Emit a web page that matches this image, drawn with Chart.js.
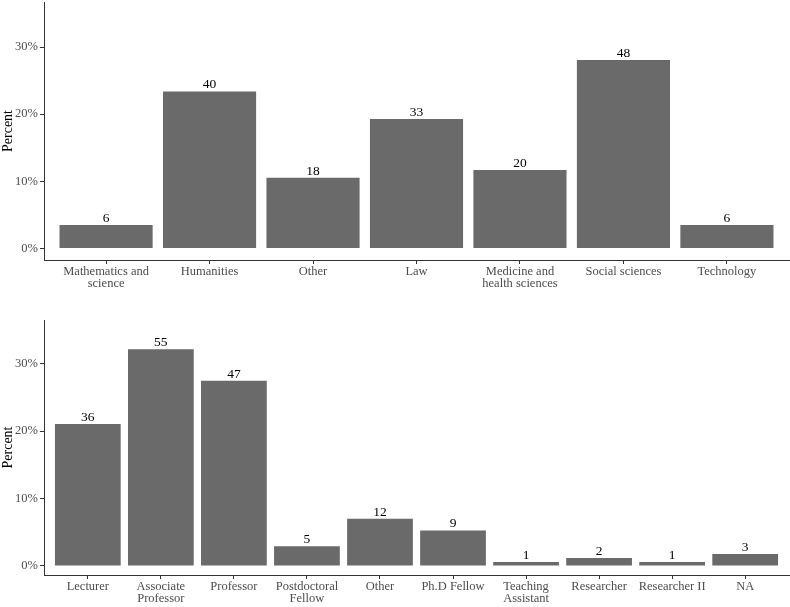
<!DOCTYPE html>
<html lang="en">
<head>
  <meta charset="UTF-8" />
  <title>Respondents by field and position</title>
  <script src="https://cdn.jsdelivr.net/npm/chart.js"></script>
  <style>
    body { margin: 0; background: #fff; }
    .box { position: absolute; left: 0; width: 790px; }
    #topBox { top: 0; height: 300px; }
    #bottomBox { top: 300px; height: 307px; }
  </style>
</head>
<body>
  <div class="box" id="topBox"><canvas id="topChart"></canvas></div>
  <div class="box" id="bottomBox"><canvas id="bottomChart"></canvas></div>

  <script>
    // field of study
    const topLabels = [["Mathematics and", "science"], "Humanities", "Other", "Law",
      ["Medicine and", "health sciences"], "Social sciences", "Technology"];
    const topCounts = [6, 40, 18, 33, 20, 48, 6];

    // academic position
    const bottomLabels = ["Lecturer", ["Associate", "Professor"], "Professor", ["Postdoctoral", "Fellow"],
      "Other", "Ph.D Fellow", ["Teaching", "Assistant"], "Researcher", "Researcher II", "NA"];
    const bottomCounts = [36, 55, 47, 5, 12, 9, 1, 2, 1, 3];

    const yTicks = [0, 10, 20, 30];

    const FONT = "'Liberation Serif', 'Times New Roman', serif";
    const AXIS = '#333333';

    const countLabels = {
      id: 'countLabels',
      afterDatasetsDraw(chart) {
        const ctx = chart.ctx;
        const meta = chart.getDatasetMeta(0);
        const ds = chart.data.datasets[0];
        ctx.save();
        ctx.font = '13.5px ' + FONT;
        ctx.fillStyle = '#000';
        ctx.textAlign = 'center';
        ctx.textBaseline = 'alphabetic';
        meta.data.forEach((bar, i) => {
          ctx.fillText(ds.data[i].n, bar.x, bar.y - 3);
        });
        ctx.restore();
      }
    };

    function makeChart(id, labels, counts, opts) {
      const total = counts.reduce((a, b) => a + b, 0);
      const points = counts.map((c, i) => ({ x: i, y: c / total * 100, n: c }));
      return new Chart(document.getElementById(id), {
        type: 'bar',
        data: {
          datasets: [{
            data: points,
            backgroundColor: '#6a6a6a',
            borderWidth: 0,
            barPercentage: 0.9,
            categoryPercentage: 1
          }]
        },
        options: {
          responsive: true,
          maintainAspectRatio: false,
          animation: false,
          layout: { padding: { top: opts.padTop, right: 1, left: 0, bottom: 0 } },
          plugins: { legend: { display: false }, tooltip: { enabled: false } },
          scales: {
            x: {
              type: 'linear',
              min: -0.6,
              max: labels.length - 0.4,
              offset: false,
              afterBuildTicks: s => { s.ticks = labels.map((_, i) => ({ value: i })); },
              afterFit: s => { s.height = opts.xHeight; s.paddingLeft = 0; s.paddingRight = 0; },
              ticks: {
                autoSkip: false,
                maxRotation: 0,
                padding: 1,
                color: '#4d4d4d',
                font: { family: FONT, size: 12.5, lineHeight: 1.02 },
                callback: v => labels[v]
              },
              grid: { offset: false, drawOnChartArea: false, drawTicks: true, tickLength: 4, color: AXIS },
              border: { display: true, color: AXIS, width: 1 }
            },
            y: {
              min: opts.yMin,
              max: opts.yMax,
              afterBuildTicks: s => { s.ticks = yTicks.map(v => ({ value: v })); },
              afterFit: s => { s.width = 44; s.paddingTop = 0; s.paddingBottom = 0; },
              ticks: {
                padding: 2,
                color: '#4d4d4d',
                font: { family: FONT, size: 12.5 },
                callback: v => v + '%'
              },
              grid: { drawOnChartArea: false, drawTicks: true, tickLength: 4, color: AXIS },
              border: { display: true, color: AXIS, width: 1 },
              title: {
                display: true,
                text: 'Percent',
                color: '#000',
                padding: { top: 0, bottom: 2 },
                font: { family: FONT, size: 14, weight: 'normal' }
              }
            }
          }
        },
        plugins: [countLabels]
      });
    }

    makeChart('topChart', topLabels, topCounts, { padTop: 2, xHeight: 40, yMin: -1.7, yMax: 36.7 });
    makeChart('bottomChart', bottomLabels, bottomCounts, { padTop: 20, xHeight: 32, yMin: -1.35, yMax: 36.5 });
  </script>
</body>
</html>
